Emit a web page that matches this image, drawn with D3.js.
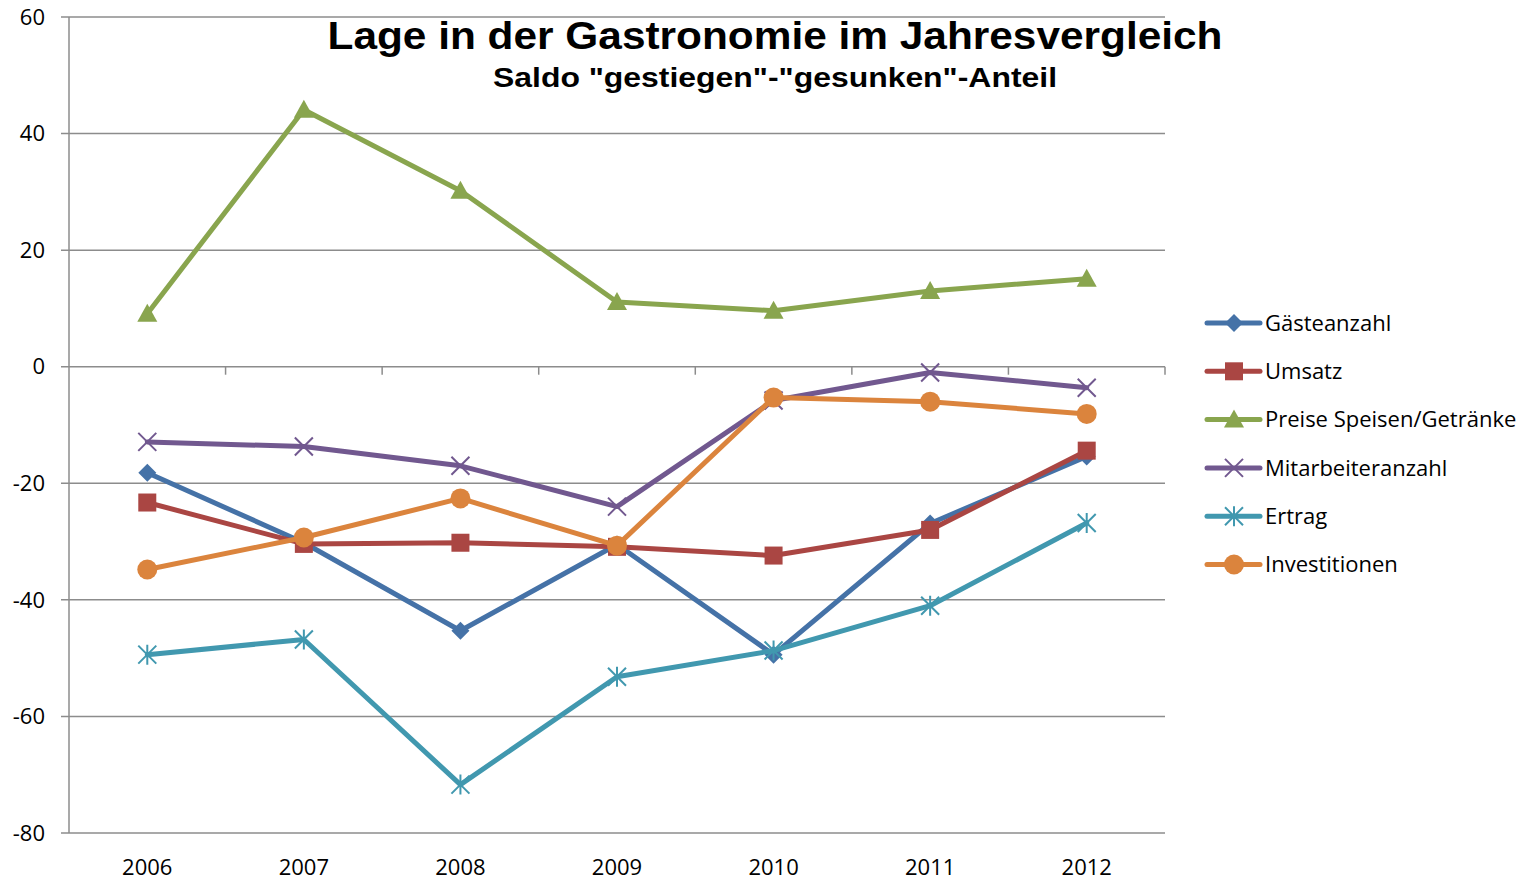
<!DOCTYPE html>
<html>
<head>
<meta charset="utf-8">
<script src="https://cdn.jsdelivr.net/npm/d3@7"></script>
<style>
  body { margin: 0; background: #fff; }
</style>
</head>
<body>
<div id="chart"></div>
<script>
const years = ['2006', '2007', '2008', '2009', '2010', '2011', '2012']

const gaesteanzahl = [-18.2, -30.2, -45.3, -30.5, -49.4, -26.9, -15.4]
const umsatz = [-23.3, -30.4, -30.2, -30.9, -32.4, -28, -14.4]
const preise = [9.1, 44.1, 30.2, 11.1, 9.6, 13, 15.1]
const mitarbeiter = [-12.9, -13.7, -17, -24, -5.8, -1, -3.6]
const ertrag = [-49.4, -46.8, -71.7, -53.2, -48.7, -41, -26.8]
const investitionen = [-34.8, -29.3, -22.6, -30.7, -5.3, -6, -8.1]

const yTicks = [60, 40, 20, 0, -20, -40, -60, -80]

const series = [
  { name: 'Gästeanzahl', values: gaesteanzahl, color: '#4572A7', marker: 'diamond' },
  { name: 'Umsatz', values: umsatz, color: '#AA4643', marker: 'square' },
  { name: 'Preise Speisen/Getränke', values: preise, color: '#89A54E', marker: 'triangle' },
  { name: 'Mitarbeiteranzahl', values: mitarbeiter, color: '#71588F', marker: 'x' },
  { name: 'Ertrag', values: ertrag, color: '#4198AF', marker: 'star' },
  { name: 'Investitionen', values: investitionen, color: '#DB843D', marker: 'circle' },
]

const W = 1538
const H = 880
const plotLeft = 69
const plotRight = 1165
const plotTop = 17
const plotBottom = 833
const labelFont = '"Open Sans", Lato, sans-serif'

const svg = d3.select('#chart').append('svg').attr('width', W).attr('height', H)

const x = d3.scaleBand().domain(years).range([plotLeft, plotRight])
const y = d3.scaleLinear().domain([-80, 60]).range([plotBottom, plotTop])

// gridlines
svg
  .append('g')
  .selectAll('line')
  .data(yTicks)
  .join('line')
  .attr('x1', plotLeft - 8)
  .attr('x2', plotRight)
  .attr('y1', (d) => y(d))
  .attr('y2', (d) => y(d))
  .attr('stroke', '#8c8c8c')
  .attr('stroke-width', 1.5)

// y axis line
svg
  .append('line')
  .attr('x1', plotLeft)
  .attr('x2', plotLeft)
  .attr('y1', plotTop)
  .attr('y2', plotBottom)
  .attr('stroke', '#8c8c8c')
  .attr('stroke-width', 1.5)

// y tick labels
svg
  .append('g')
  .selectAll('text')
  .data(yTicks)
  .join('text')
  .attr('x', 45)
  .attr('y', (d) => y(d))
  .attr('dy', '0.35em')
  .attr('text-anchor', 'end')
  .attr('font-family', labelFont)
  .attr('font-size', 22)
  .attr('fill', '#000')
  .text((d) => d)

// category tick marks on the zero line
const boundaries = years.map((yr) => x(yr) + x.bandwidth())
svg
  .append('g')
  .selectAll('line')
  .data(boundaries)
  .join('line')
  .attr('x1', (d) => d)
  .attr('x2', (d) => d)
  .attr('y1', y(0))
  .attr('y2', y(0) + 8)
  .attr('stroke', '#8c8c8c')
  .attr('stroke-width', 1.5)

// x labels
svg
  .append('g')
  .selectAll('text')
  .data(years)
  .join('text')
  .attr('x', (d) => x(d) + x.bandwidth() / 2)
  .attr('y', 867)
  .attr('dy', '0.35em')
  .attr('text-anchor', 'middle')
  .attr('font-family', labelFont)
  .attr('font-size', 22)
  .attr('fill', '#000')
  .text((d) => d)

const drawMarker = (g, type, color) => {
  if (type === 'diamond') {
    g.append('path').attr('d', 'M0,-9L9,0L0,9L-9,0Z').attr('fill', color)
  } else if (type === 'square') {
    g.append('rect').attr('x', -9).attr('y', -9).attr('width', 18).attr('height', 18).attr('fill', color)
  } else if (type === 'triangle') {
    g.append('path').attr('d', 'M0,-10L10,8L-10,8Z').attr('fill', color)
  } else if (type === 'circle') {
    g.append('circle').attr('r', 10).attr('fill', color)
  } else if (type === 'x') {
    g.append('path').attr('d', 'M-9,-9L9,9M-9,9L9,-9').attr('stroke', color).attr('stroke-width', 2).attr('fill', 'none')
  } else if (type === 'star') {
    g.append('path')
      .attr('d', 'M-9,-9L9,9M-9,9L9,-9M0,-10L0,10')
      .attr('stroke', color)
      .attr('stroke-width', 2)
      .attr('fill', 'none')
  }
}

const line = d3
  .line()
  .x((d, i) => x(years[i]) + x.bandwidth() / 2)
  .y((d) => y(d))

series.forEach((s) => {
  svg
    .append('path')
    .attr('d', line(s.values))
    .attr('fill', 'none')
    .attr('stroke', s.color)
    .attr('stroke-width', 5)
    .attr('stroke-linejoin', 'round')
    .attr('stroke-linecap', 'round')

  s.values.forEach((v, i) => {
    const g = svg
      .append('g')
      .attr('transform', `translate(${x(years[i]) + x.bandwidth() / 2} ${y(v)})`)
    drawMarker(g, s.marker, s.color)
  })
})

// legend
const legend = svg.append('g').attr('transform', 'translate(1207 323)')
series.forEach((s, i) => {
  const row = legend.append('g').attr('transform', `translate(0 ${i * 48.3})`)
  row
    .append('line')
    .attr('x1', 0)
    .attr('x2', 53)
    .attr('stroke', s.color)
    .attr('stroke-width', 5)
    .attr('stroke-linecap', 'round')
  const m = row.append('g').attr('transform', 'translate(27 0)')
  drawMarker(m, s.marker, s.color)
  row
    .append('text')
    .attr('x', 58)
    .attr('dy', '0.35em')
    .attr('font-family', labelFont)
    .attr('font-size', 22)
    .attr('fill', '#000')
    .text(s.name)
})

// titles
svg
  .append('text')
  .attr('x', 775)
  .attr('y', 49)
  .attr('text-anchor', 'middle')
  .attr('font-family', '"Liberation Sans", Arial, sans-serif')
  .attr('font-weight', 'bold')
  .attr('font-size', 39)
  .attr('textLength', 895)
  .attr('lengthAdjust', 'spacingAndGlyphs')
  .text('Lage in der Gastronomie im Jahresvergleich')

svg
  .append('text')
  .attr('x', 775)
  .attr('y', 87)
  .attr('text-anchor', 'middle')
  .attr('font-family', '"Liberation Sans", Arial, sans-serif')
  .attr('font-weight', 'bold')
  .attr('font-size', 28)
  .attr('textLength', 564)
  .attr('lengthAdjust', 'spacingAndGlyphs')
  .text('Saldo "gestiegen"-"gesunken"-Anteil')
</script>
</body>
</html>
